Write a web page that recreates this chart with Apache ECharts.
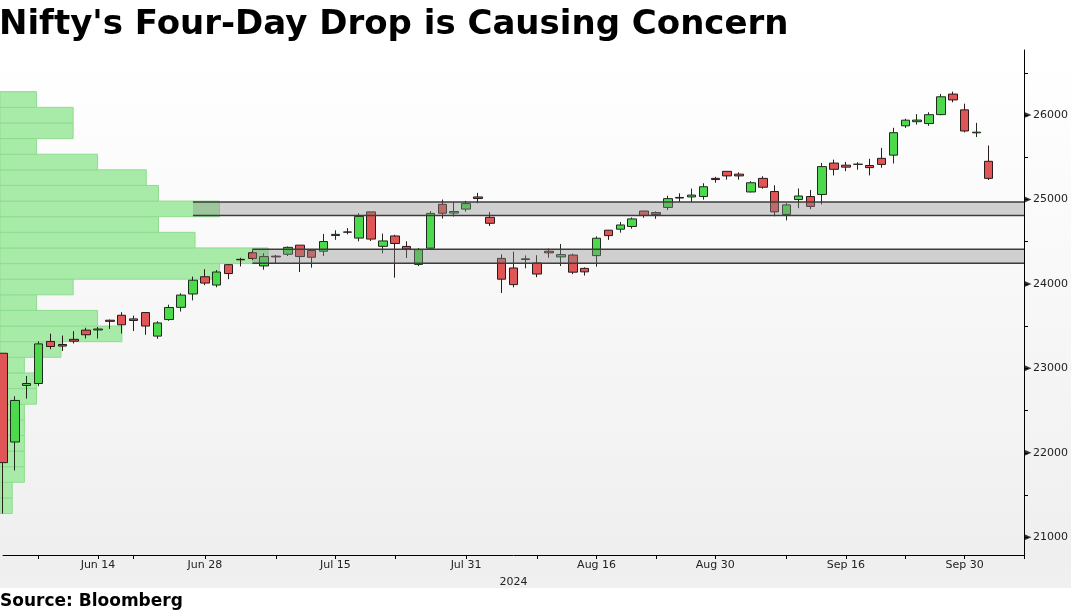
<!DOCTYPE html>
<html>
<head>
<meta charset="utf-8">
<script src="https://cdn.jsdelivr.net/npm/echarts@6/dist/echarts.min.js"></script>
<style>
html, body { margin: 0; padding: 0; background: #fff; }
#main { width: 1071px; height: 612px; }
</style>
</head>
<body>
<div id="main"></div>
<script>
// trading days, Nifty 50, 2024
var dates = [
  'Jun 4', 'Jun 5', 'Jun 6', 'Jun 7', 'Jun 10', 'Jun 11', 'Jun 12', 'Jun 13', 'Jun 14', 'Jun 18',
  'Jun 19', 'Jun 20', 'Jun 21', 'Jun 24', 'Jun 25', 'Jun 26', 'Jun 27', 'Jun 28',
  'Jul 1', 'Jul 2', 'Jul 3', 'Jul 4', 'Jul 5', 'Jul 8', 'Jul 9', 'Jul 10', 'Jul 11', 'Jul 12',
  'Jul 15', 'Jul 16', 'Jul 18', 'Jul 19', 'Jul 22', 'Jul 23', 'Jul 24', 'Jul 25', 'Jul 26',
  'Jul 29', 'Jul 30', 'Jul 31',
  'Aug 1', 'Aug 2', 'Aug 5', 'Aug 6', 'Aug 7', 'Aug 8', 'Aug 9', 'Aug 12', 'Aug 13', 'Aug 14',
  'Aug 16', 'Aug 19', 'Aug 20', 'Aug 21', 'Aug 22', 'Aug 23', 'Aug 26', 'Aug 27', 'Aug 28',
  'Aug 29', 'Aug 30',
  'Sep 2', 'Sep 3', 'Sep 4', 'Sep 5', 'Sep 6', 'Sep 9', 'Sep 10', 'Sep 11', 'Sep 12', 'Sep 13',
  'Sep 16', 'Sep 17', 'Sep 18', 'Sep 19', 'Sep 20', 'Sep 23', 'Sep 24', 'Sep 25', 'Sep 26',
  'Sep 27', 'Sep 30',
  'Oct 1', 'Oct 3'
];
var blankDays = ['Oct 4', 'Oct 7', 'Oct 8'];

var opens = [
  23179, 22128, 22798, 22821, 23319, 23283, 23344, 23453, 23455, 23570,
  23629, 23586, 23661, 23382, 23578, 23723, 23881, 24085,
  23987, 24228, 24291, 24369, 24213, 24329, 24351, 24459, 24396, 24387,
  24573, 24615, 24543, 24853, 24445, 24568, 24444, 24231, 24423,
  24943, 24839, 24886,
  25030, 24789, 24302, 24189, 24289, 24248, 24387, 24320, 24342, 24184,
  24335, 24636, 24648, 24680, 24863, 24845, 24906, 25024, 25030,
  25035, 25250,
  25333, 25300, 25089, 25250, 25094, 24823, 24999, 25035, 25059, 25431,
  25406, 25416, 25402, 25487, 25525, 25872, 25921, 25899, 26005,
  26248, 26061,
  25789, 25452
];
var highs = [
  23179, 22670, 22910, 23320, 23411, 23389, 23441, 23481, 23490, 23578,
  23665, 23624, 23667, 23558, 23754, 23889, 24087, 24174,
  24164, 24236, 24309, 24401, 24363, 24344, 24443, 24461, 24402, 24592,
  24635, 24661, 24837, 24854, 24596, 24582, 24504, 24426, 24861,
  24999, 24971, 24984,
  25078, 24851, 24350, 24382, 24337, 24340, 24419, 24472, 24359, 24196,
  24563, 24638, 24734, 24787, 24867, 24858, 25044, 25073, 25129,
  25192, 25268,
  25333, 25321, 25216, 25275, 25168, 24957, 25130, 25113, 25433, 25472,
  25445, 25441, 25482, 25611, 25849, 25956, 26011, 26033, 26250,
  26277, 26134,
  25907, 25639
];
var lows = [
  21281, 21791, 22642, 22789, 23227, 23206, 23295, 23354, 23353, 23467,
  23413, 23442, 23398, 23350, 23563, 23673, 23805, 23985,
  23960, 24056, 24207, 24281, 24168, 24240, 24331, 24141, 24193, 24331,
  24522, 24587, 24504, 24508, 24362, 24074, 24307, 24211, 24410,
  24774, 24798, 24856,
  24956, 24686, 23893, 23960, 24185, 24079, 24311, 24212, 24116, 24099,
  24204, 24522, 24607, 24654, 24784, 24771, 24874, 24973, 24964,
  24998, 25199,
  25235, 25235, 25083, 25127, 24801, 24753, 24896, 24885, 24941, 25285,
  25336, 25352, 25285, 25376, 25426, 25847, 25886, 25872, 25998,
  26151, 25794,
  25739, 25230
];
var closes = [
  21884, 22620, 22821, 23290, 23259, 23264, 23322, 23398, 23466, 23557,
  23516, 23567, 23501, 23538, 23721, 23868, 24044, 24010,
  24141, 24123, 24286, 24302, 24324, 24320, 24433, 24324, 24316, 24502,
  24587, 24613, 24800, 24531, 24509, 24479, 24413, 24406, 24835,
  24837, 24857, 24951,
  25011, 24718, 24056, 23992, 24297, 24117, 24368, 24347, 24139, 24143,
  24541, 24572, 24698, 24770, 24811, 24823, 25010, 25017, 25052,
  25151, 25236,
  25279, 25279, 25198, 25145, 24853, 24936, 25041, 24918, 25389, 25357,
  25383, 25418, 25377, 25415, 25791, 25939, 25940, 26004, 26216,
  26179, 25811,
  25797, 25250
];

// axis labels / ticks
var labelDates = ['Jun 14', 'Jun 28', 'Jul 15', 'Jul 31', 'Aug 16', 'Aug 30', 'Sep 16', 'Sep 30'];
var tickDates = ['Jun 7', 'Jun 14', 'Jun 20', 'Jun 28', 'Jul 8', 'Jul 15', 'Jul 23', 'Jul 31',
  'Aug 8', 'Aug 16', 'Aug 23', 'Aug 30', 'Sep 9', 'Sep 16', 'Sep 23', 'Sep 30', 'Oct 8'];
var priceLabels = [21000, 22000, 23000, 24000, 25000, 26000];
var priceTicks = [21000, 21500, 22000, 22500, 23000, 23500, 24000, 24500, 25000, 25500, 26000, 26500];

// price-profile bins (bottom edges, plus top of last bin) and counts
var profileEdges = [21281, 21466, 21651, 21836, 22021, 22206, 22391, 22576, 22761, 22946,
  23131, 23316, 23501, 23686, 23871, 24056, 24241, 24426, 24611, 24796,
  24981, 25166, 25351, 25536, 25721, 25906, 26091, 26277];
var profileCounts = [1, 1, 2, 2, 2, 2, 2, 3, 3, 2, 5, 10, 8, 3, 6, 18, 22, 16, 13, 18, 13, 12, 8, 3, 6, 6, 3];

// support / resistance zones
var zoneStart = ['Jun 27', 'Jul 4'];
var zoneLow = [24810, 24245];
var zoneHigh = [24970, 24410];

var yMin = 20790, yMax = 26770;

var chartDom = document.getElementById('main');
var myChart = echarts.init(chartDom);
var option;

var xCats = dates.concat(blankDays);
var lastCat = xCats[xCats.length - 1];
var candleData = dates.map(function (d, i) {
  return [opens[i], closes[i], lows[i], highs[i]];
});
var profileData = profileCounts.map(function (c, i) {
  return [profileEdges[i], profileEdges[i + 1], c];
});
var zoneData = zoneStart.map(function (d, i) {
  return [dates.indexOf(d), xCats.length - 1, zoneLow[i], zoneHigh[i]];
});
var arrowData = priceLabels.map(function (v) { return [lastCat, v]; });

option = {
  backgroundColor: '#ffffff',
  animation: false,
  title: {
    text: "Nifty's Four-Day Drop is Causing Concern",
    left: -1,
    top: 8,
    padding: 0,
    textStyle: { fontFamily: 'DejaVu Sans', fontWeight: 'bold', fontSize: 34, color: '#000' }
  },
  graphic: [
    {
      type: 'rect', z: -10, silent: true,
      shape: { x: 0, y: 48, width: 1071, height: 540 },
      style: {
        fill: new echarts.graphic.LinearGradient(0, 0, 0, 1, [
          { offset: 0, color: '#ffffff' },
          { offset: 0.15, color: '#fdfdfd' },
          { offset: 0.94, color: '#efefef' },
          { offset: 1, color: '#f0f0f0' }
        ])
      }
    },
    {
      type: 'text', left: 0, top: 593,
      style: { text: 'Source: Bloomberg', fontFamily: 'DejaVu Sans', fontWeight: 'bold', fontSize: 17, fill: '#000' }
    }
  ],
  grid: [
    { left: 3, right: 47, top: 50, bottom: 57 },
    { left: 0, right: 47, top: 50, bottom: 57 }
  ],
  xAxis: [
    {
      type: 'category',
      gridIndex: 0,
      data: xCats,
      boundaryGap: false,
      axisLine: { lineStyle: { color: '#000', width: 1 } },
      axisTick: {
        length: 4,
        lineStyle: { color: '#000' },
        interval: function (idx, value) { return tickDates.indexOf(value) >= 0; }
      },
      axisLabel: {
        interval: function (idx, value) { return labelDates.indexOf(value) >= 0; },
        fontFamily: 'DejaVu Sans', fontSize: 11, color: '#222', margin: 5
      },
      splitLine: { show: false },
      name: '2024',
      nameLocation: 'middle',
      nameGap: 22,
      nameTextStyle: { fontFamily: 'DejaVu Sans', fontSize: 11, color: '#222' }
    },
    {
      type: 'value', gridIndex: 1, min: 0, max: 84, show: false
    }
  ],
  yAxis: [
    {
      type: 'value',
      gridIndex: 0,
      position: 'right',
      min: yMin,
      max: yMax,
      axisLine: { show: true, lineStyle: { color: '#000', width: 1 } },
      axisTick: {
        show: true, inside: false, length: 4,
        customValues: priceTicks,
        lineStyle: { color: '#000', width: 1 }
      },
      axisLabel: {
        customValues: priceLabels,
        formatter: function (v) { return String(v); },
        fontFamily: 'DejaVu Sans', fontSize: 11, color: '#222', margin: 9
      },
      splitLine: { show: false }
    },
    {
      type: 'value', gridIndex: 1, min: yMin, max: yMax, show: false
    }
  ],
  series: [
    {
      name: 'profile',
      type: 'custom',
      xAxisIndex: 1,
      yAxisIndex: 1,
      z: 1,
      encode: { x: 2, y: [0, 1] },
      data: profileData,
      renderItem: function (params, api) {
        var p0 = api.coord([0, api.value(1)]);
        var p1 = api.coord([api.value(2), api.value(0)]);
        return {
          type: 'rect',
          shape: { x: p0[0], y: p0[1], width: p1[0] - p0[0], height: p1[1] - p0[1] },
          style: { fill: '#a8eaa8', stroke: '#8fdc8f', lineWidth: 1 }
        };
      }
    },
    {
      name: 'Nifty',
      type: 'candlestick',
      xAxisIndex: 0,
      yAxisIndex: 0,
      z: 3,
      clip: false,
      barWidth: 9,
      data: candleData,
      itemStyle: {
        color: '#4cd94c',
        color0: '#e05656',
        borderColor: '#1d2a1d',
        borderColor0: '#2a1a1a',
        borderWidth: 1
      }
    },
    {
      name: 'zones',
      type: 'custom',
      xAxisIndex: 0,
      yAxisIndex: 0,
      z: 4,
      encode: { x: [0, 1], y: [2, 3] },
      data: zoneData,
      renderItem: function (params, api) {
        var p0 = api.coord([api.value(0), api.value(3)]);
        var p1 = api.coord([api.value(1), api.value(2)]);
        return {
          type: 'group',
          children: [
            {
              type: 'rect',
              shape: { x: p0[0], y: p0[1], width: p1[0] - p0[0], height: p1[1] - p0[1] },
              style: { fill: 'rgba(140,140,140,0.38)' }
            },
            {
              type: 'line',
              shape: { x1: p0[0], y1: p0[1], x2: p1[0], y2: p0[1] },
              style: { stroke: '#3c3c3c', lineWidth: 1.5 }
            },
            {
              type: 'line',
              shape: { x1: p0[0], y1: p1[1], x2: p1[0], y2: p1[1] },
              style: { stroke: '#3c3c3c', lineWidth: 1.5 }
            }
          ]
        };
      }
    },
    {
      // arrow markers at the major price ticks
      name: 'arrows',
      type: 'scatter',
      xAxisIndex: 0,
      yAxisIndex: 0,
      z: 5,
      clip: false,
      silent: true,
      symbol: 'triangle',
      symbolRotate: -90,
      symbolSize: [6, 7],
      symbolOffset: [4, 0],
      itemStyle: { color: '#000' },
      data: arrowData
    }
  ]
};

option && myChart.setOption(option);
window.onresize = function () {
  myChart.resize();
};
</script>
</body>
</html>
